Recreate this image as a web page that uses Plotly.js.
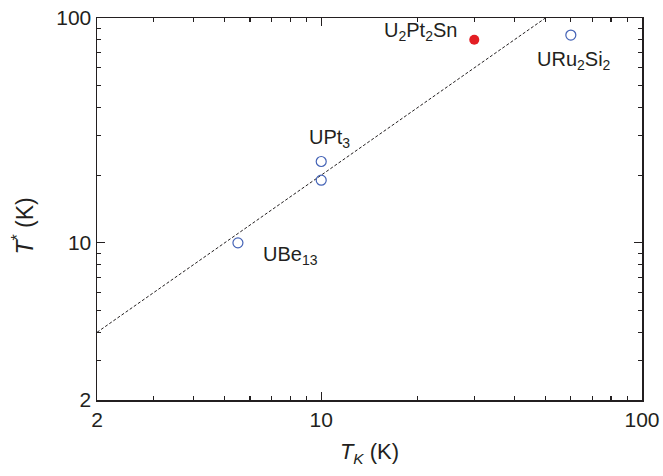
<!DOCTYPE html>
<html>
<head>
<meta charset="utf-8">
<script src="https://cdn.plot.ly/plotly-3.0.1.min.js"></script>
<style>html,body{margin:0;padding:0;background:#fff;}#chart{width:663px;height:476px;}</style>
</head>
<body>
<div id="chart"></div>
<script>
// Data
const openNames = ["UBe<sub>13</sub>", "UPt<sub>3</sub>", "", "URu<sub>2</sub>Si<sub>2</sub>"];
const openTK = [5.5, 10, 10, 60];
const openTstar = [10, 23, 19, 84];
const filledNames = ["U<sub>2</sub>Pt<sub>2</sub>Sn"];
const filledTK = [30];
const filledTstar = [80];
const lineTK = [2, 50];
const lineTstar = [4, 100];
const majorTicks = [2, 10, 100];
const minorTicks = [3, 4, 5, 6, 7, 8, 9, 20, 30, 40, 50, 60, 70, 80, 90];
const xTitle = '<i>T</i><sub><i>K</i></sub> (K)';
const yTitle = '<i>T</i><sup>*</sup> (K)';

const ink = '#231f20';
const font = "Arial, 'Liberation Sans', sans-serif";

const traces = [
  {x: lineTK, y: lineTstar, mode: 'lines', line: {color: ink, width: 1, dash: '3px,2px'}, hoverinfo: 'skip'},
  {x: openTK, y: openTstar, mode: 'markers', marker: {symbol: 'circle-open', size: 10, color: '#4463b6', line: {width: 1.2}}},
  {x: filledTK, y: filledTstar, mode: 'markers', marker: {symbol: 'circle', size: 10, color: '#e31e24'}}
];

// label placement offsets (style)
const offs = [
  {xanchor: 'left', yanchor: 'middle', xshift: 23, yshift: -13},
  {xanchor: 'center', yanchor: 'middle', xshift: 8, yshift: 23},
  null,
  {xanchor: 'center', yanchor: 'middle', xshift: 3, yshift: -25}
];
const annotations = [];
openNames.forEach((n, i) => {
  if (!n) return;
  const o = offs[i];
  annotations.push(Object.assign({x: Math.log10(openTK[i]), y: Math.log10(openTstar[i]), text: n, showarrow: false, font: {size: 20, color: ink, family: font}}, o));
});
annotations.push({x: Math.log10(filledTK[0]), y: Math.log10(filledTstar[0]), text: filledNames[0], showarrow: false,
  xanchor: 'right', yanchor: 'middle', xshift: -15, yshift: 8, font: {size: 20, color: ink, family: font}});
// y axis title as annotation for exact placement
annotations.push({xref: 'paper', yref: 'paper', x: -0.135, y: 0.455, text: yTitle, textangle: -90, showarrow: false,
  xanchor: 'center', yanchor: 'middle', font: {size: 23, color: ink, family: font}});

const axisCommon = {
  type: 'log', showgrid: false, zeroline: false,
  showline: true, linecolor: ink, linewidth: 1.5, mirror: 'allticks',
  ticks: 'inside', ticklen: 8, tickwidth: 1.3, tickcolor: ink,
  tickmode: 'array', tickvals: majorTicks, ticktext: majorTicks.map(String),
  tickfont: {size: 21, color: ink, family: font},
  minor: {tickmode: 'array', tickvals: minorTicks, ticks: 'inside', ticklen: 4, tickwidth: 1.2, tickcolor: ink, showgrid: false}
};

const layout = {
  width: 663, height: 476,
  margin: {l: 97, r: 21, t: 18, b: 76},
  paper_bgcolor: '#fff', plot_bgcolor: '#fff',
  showlegend: false,
  font: {family: font, color: ink},
  xaxis: Object.assign({}, axisCommon, {
    range: [Math.log10(2), Math.log10(100)],
    title: {text: xTitle, font: {size: 22, color: ink, family: font}, standoff: 14}
  }),
  yaxis: Object.assign({}, axisCommon, {
    range: [Math.log10(2), Math.log10(100)]
  }),
  annotations: annotations
};

Plotly.newPlot('chart', traces, layout, {staticPlot: true, displayModeBar: false});
</script>
</body>
</html>
